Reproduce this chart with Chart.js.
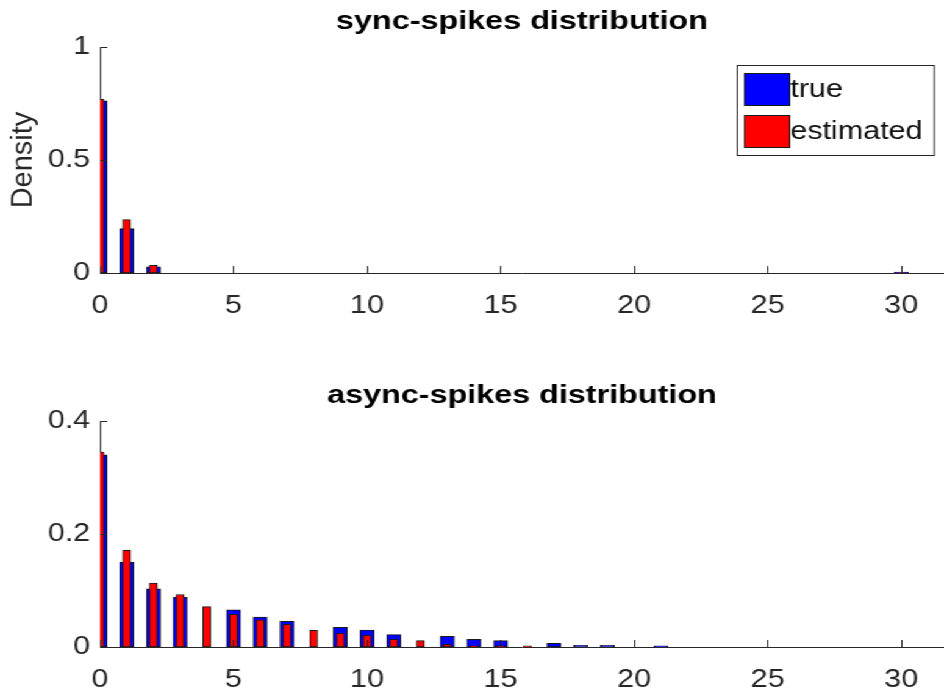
<!DOCTYPE html>
<html>
<head>
<meta charset="utf-8">
<script src="https://cdn.jsdelivr.net/npm/chart.js@4.4.0/dist/chart.umd.min.js"></script>
<style>
    html, body { margin: 0; padding: 0; background: #fff; overflow: hidden; }
    /* figure looks horizontally stretched, so draw narrower and stretch */
    #stage { position: absolute; left: 0; top: 0; width: 774px; height: 690px; transform: scaleX(1.2196); transform-origin: 0 0; }
    .panel { position: absolute; left: 0; width: 774px; height: 345px; }
</style>
</head>
<body>
<div id="stage">
    <div class="panel" style="top:0"><canvas id="syncChart"></canvas></div>
    <div class="panel" style="top:345px"><canvas id="asyncChart"></canvas></div>
</div>
<script>
const STRETCH = 1.2196;

// spike count bins
const syncBins = Array.from({ length: 31 }, (_, i) => i);
const asyncBins = Array.from({ length: 22 }, (_, i) => i);

const syncTrue = [0.762, 0.196, 0.027, 0, 0, 0, 0, 0, 0, 0,
                  0, 0, 0, 0, 0, 0, 0, 0, 0, 0,
                  0, 0, 0, 0, 0, 0, 0, 0, 0, 0, 0.004];
const syncEst  = [0.768, 0.236, 0.034, 0, 0, 0, 0, 0, 0, 0,
                  0, 0, 0, 0, 0, 0, 0, 0, 0, 0,
                  0, 0, 0, 0, 0, 0, 0, 0, 0, 0, 0.002];

const asyncTrue = [0.340, 0.150, 0.103, 0.088, 0, 0.066, 0.053, 0.0455, 0, 0.035, 0.030,
                   0.022, 0, 0.019, 0.0136, 0.0113, 0, 0.0065, 0.003, 0.003, 0, 0.002];
const asyncEst  = [0.345, 0.171, 0.113, 0.093, 0.0715, 0.058, 0.048, 0.040, 0.0296, 0.024, 0.0205,
                   0.0136, 0.0113, 0.0046, 0.002, 0.002, 0.002, 0, 0, 0, 0, 0];

const xTicks = [0, 5, 10, 15, 20, 25, 30];
const syncYTicks = [0, 0.5, 1];
const asyncYTicks = [0, 0.2, 0.4];

const FONT = '"Liberation Sans", Arial, sans-serif';
const INK = '#262626';

Chart.defaults.font.family = FONT;
Chart.defaults.font.size = 25;
Chart.defaults.color = INK;

const toPoints = (bins, vals) => bins.map((b, i) => ({ x: b, y: vals[i] === 0 ? null : vals[i] }));

// inward ticks, bold title and rotated y label
const axisDecor = {
    id: 'axisDecor',
    afterDatasetsDraw(chart, args, opts) {
        const { ctx, chartArea: a, scales: { x, y } } = chart;
        ctx.save();
        ctx.strokeStyle = INK;
        ctx.lineWidth = 1;
        ctx.beginPath();
        x.ticks.forEach(t => {
            const px = Math.round(x.getPixelForValue(t.value)) + 0.5;
            ctx.moveTo(px, a.bottom); ctx.lineTo(px, a.bottom - 7);
        });
        y.ticks.forEach(t => {
            const py = Math.round(y.getPixelForValue(t.value)) + 0.5;
            ctx.moveTo(a.left, py); ctx.lineTo(a.left + 6, py);
        });
        ctx.stroke();
        ctx.font = 'bold 26.5px ' + FONT;
        ctx.fillStyle = '#000';
        ctx.textAlign = 'center';
        ctx.textBaseline = 'middle';
        ctx.fillText(opts.text, (a.left + a.right) / 2, a.top - 25);
        if (opts.yTitle) {
            ctx.translate(19, (a.top + a.bottom) / 2);
            ctx.scale(1 / STRETCH, 1);
            ctx.rotate(-Math.PI / 2);
            ctx.font = '29px ' + FONT;
            ctx.fillStyle = INK;
            ctx.fillText(opts.yTitle, 0, 0);
        }
        ctx.restore();
    }
};

// boxed legend in the top-right corner
const boxLegend = {
    id: 'boxLegend',
    afterDraw(chart, args, opts) {
        if (!opts.show) return;
        const { ctx, chartArea: a } = chart;
        const bx = a.right - 170, by = a.top + 18, bw = 161.6, bh = 90;
        ctx.save();
        ctx.fillStyle = '#fff';
        ctx.fillRect(bx, by, bw, bh);
        ctx.strokeStyle = INK;
        ctx.lineWidth = 1;
        ctx.strokeRect(bx + 0.5, by + 0.5, bw, bh);
        ctx.font = '25px ' + FONT;
        ctx.textBaseline = 'middle';
        chart.data.datasets.forEach((ds, i) => {
            const py = by + 8 + i * 42;
            ctx.fillStyle = ds.backgroundColor;
            ctx.fillRect(bx + 6, py, 37, 32);
            ctx.strokeStyle = '#1a1a1a';
            ctx.strokeRect(bx + 6.5, py + 0.5, 37, 32);
            ctx.fillStyle = '#111';
            ctx.fillText(ds.label, bx + 44, py + 17);
        });
        ctx.restore();
    }
};

function makeChart(id, bins, trueVals, estVals, yTicks, yMax, opts) {
    const ctx = document.getElementById(id).getContext('2d');
    return new Chart(ctx, {
        type: 'bar',
        data: {
            datasets: [
                { label: 'true', data: toPoints(bins, trueVals), backgroundColor: '#0000ff', borderColor: '#1a1a1a',
                  borderWidth: 1, borderSkipped: false, barThickness: 11.5, grouped: false, order: 2, clip: 0 },
                { label: 'estimated', data: toPoints(bins, estVals), backgroundColor: '#ff0000', borderColor: '#1a1a1a',
                  borderWidth: 1, borderSkipped: false, barThickness: 6.5, grouped: false, order: 1, clip: 0 }
            ]
        },
        options: {
            responsive: true,
            maintainAspectRatio: false,
            animation: false,
            events: [],
            layout: { padding: { top: opts.top, left: 0, right: 0, bottom: 0 } },
            plugins: {
                legend: { display: false },
                tooltip: { enabled: false },
                axisDecor: { text: opts.title, yTitle: opts.yTitle },
                boxLegend: { show: opts.legend }
            },
            scales: {
                x: {
                    type: 'linear', min: 0, max: 31.6, offset: false,
                    grid: { display: false, drawTicks: false, offset: false },
                    border: { display: true, color: INK, width: 1 },
                    ticks: { padding: opts.xPad, color: INK, callback: v => String(v) },
                    afterBuildTicks: s => { s.ticks = xTicks.map(v => ({ value: v })); },
                    afterFit: s => { s.height = opts.xHeight; }
                },
                y: {
                    min: 0, max: yMax,
                    grid: { display: false, drawTicks: false },
                    border: { display: true, color: INK, width: 1 },
                    ticks: { padding: 8, color: INK, callback: v => String(v) },
                    afterBuildTicks: s => { s.ticks = yTicks.map(v => ({ value: v })); },
                    afterFit: s => { s.width = 82; }
                }
            }
        },
        plugins: [axisDecor, boxLegend]
    });
}

makeChart('syncChart', syncBins, syncTrue, syncEst, syncYTicks, 1,
    { title: 'sync-spikes distribution', top: 47, xHeight: 72, xPad: 18, yTitle: 'Density', legend: true });
makeChart('asyncChart', asyncBins, asyncTrue, asyncEst, asyncYTicks, 0.4,
    { title: 'async-spikes distribution', top: 76, xHeight: 43, xPad: 18, legend: false });
</script>
</body>
</html>
